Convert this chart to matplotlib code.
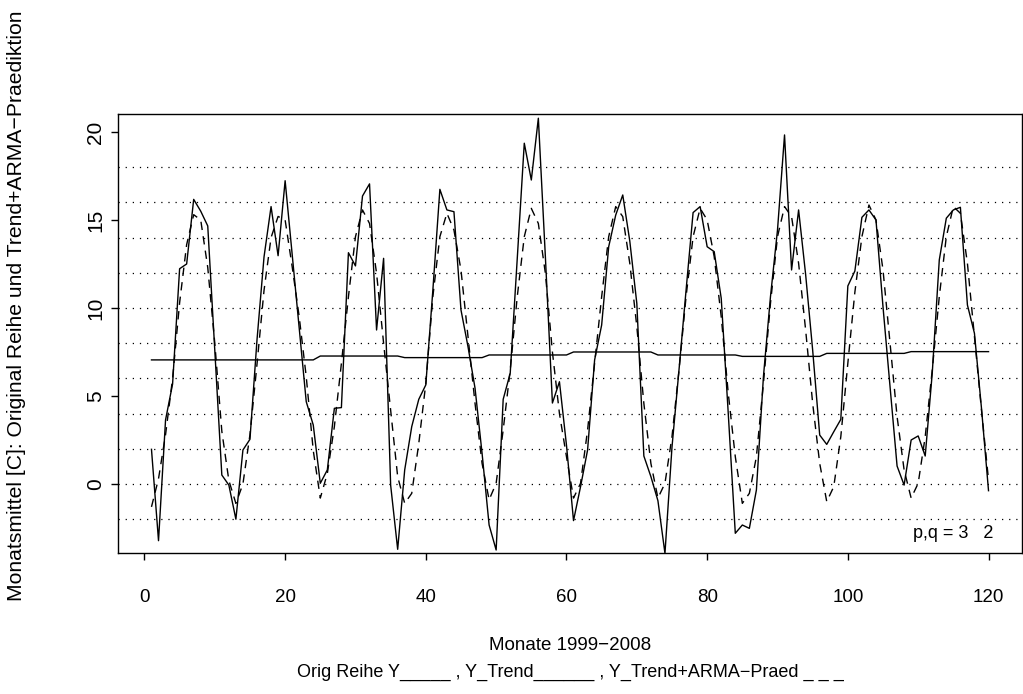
import numpy as np
import matplotlib
matplotlib.use("Agg")
import matplotlib.pyplot as plt

plt.rcParams['font.family'] = ['Liberation Sans', 'DejaVu Sans']

# ---- data ----
months = list(range(1, 121))

y_orig = [
    1.97, -3.22, 3.64, 5.68, 12.23, 12.50, 16.17, 15.50, 14.66, 7.60, 0.51, -0.06,
    -2.00, 1.93, 2.54, 8.18, 12.90, 15.76, 12.97, 17.23, 13.05, 8.86, 4.68, 3.35,
    0.04, 0.80, 4.30, 4.34, 13.14, 12.39, 16.36, 17.05, 8.75, 12.82, -0.06, -3.71,
    0.80, 3.26, 4.81, 5.63, 11.00, 16.74, 15.57, 15.47, 9.89, 7.80, 5.44, 1.74,
    -2.33, -3.75, 4.81, 6.29, 12.80, 19.36, 17.27, 20.78, 12.90, 4.60, 5.81, 2.20,
    -2.08, -0.15, 1.93, 7.05, 9.03, 13.48, 15.28, 16.42, 13.80, 10.26, 1.59, 0.42,
    -0.95, -3.94, 2.10, 6.50, 11.00, 15.42, 15.76, 13.48, 13.20, 10.55, 4.00, -2.80,
    -2.33, -2.52, -0.34, 6.10, 10.64, 14.43, 19.83, 12.16, 15.57, 11.90, 7.60, 2.78,
    2.25, 2.97, 3.67, 11.25, 12.10, 15.15, 15.57, 15.00, 10.06, 5.53, 1.02, -0.06,
    2.50, 2.73, 1.59, 6.30, 12.73, 15.10, 15.57, 15.72, 10.17, 8.56, 4.30, -0.38,
]

y_pred = [
    -1.30, 0.30, 2.80, 6.00, 10.30, 13.60, 15.30, 15.00, 12.30, 8.00, 3.00, 0.20,
    -1.10, 0.00, 2.80, 6.80, 11.00, 14.00, 15.20, 15.00, 12.35, 9.50, 6.10, 1.90,
    -0.80, 0.60, 3.26, 6.85, 10.64, 14.05, 15.57, 14.80, 11.97, 8.00, 4.20, 0.42,
    -1.10, -0.53, 2.30, 5.72, 10.64, 14.05, 15.38, 14.43, 12.16, 8.37, 4.58, 1.17,
    -0.90, 0.04, 3.07, 6.48, 10.64, 14.05, 15.66, 14.80, 11.97, 7.50, 4.00, 1.55,
    -0.80, 0.04, 3.07, 6.86, 10.64, 14.05, 15.76, 15.19, 12.54, 8.94, 4.58, 1.17,
    -0.80, 0.04, 2.69, 6.48, 10.64, 14.05, 15.66, 15.00, 12.92, 9.50, 5.15, 1.55,
    -1.10, -0.53, 1.55, 5.72, 10.26, 14.05, 15.76, 15.19, 12.54, 8.75, 4.58, 1.17,
    -1.00, -0.15, 2.69, 6.86, 10.90, 14.05, 15.85, 15.00, 12.16, 8.00, 3.83, 0.80,
    -0.80, 0.04, 2.69, 6.48, 10.64, 14.05, 15.76, 15.38, 12.54, 8.37, 4.20, 0.23,
]

# yearly trend level (constant within each year of 12 months)
trend_year = [7.05, 7.05, 7.27, 7.18, 7.33, 7.50, 7.33, 7.25, 7.42, 7.52]
trend = np.repeat(trend_year, 12)

x_ticks = [0, 20, 40, 60, 80, 100, 120]
y_ticks = [0, 5, 10, 15, 20]
grid_levels = [-2, 0, 2, 4, 6, 8, 10, 12, 14, 16, 18]

xlabel_1 = "Monate 1999\u22122008"
xlabel_2 = "Orig Reihe Y_____ , Y_Trend______ , Y_Trend+ARMA\u2212Praed _ _ _"
ylabel = "Monatsmittel [C]: Original Reihe und Trend+ARMA\u2212Praediktion"
pq_text = "p,q = 3   2"

# ---- figure ----
W, H = 1023, 694
fig = plt.figure(figsize=(W / 100, H / 100), dpi=100)
fig.patch.set_facecolor("white")

left_px, right_px, top_px, bottom_px = 118, 1022, 114, 553
ax = fig.add_axes([left_px / W, 1 - bottom_px / H,
                   (right_px - left_px) / W, (bottom_px - top_px) / H])

ax.set_xlim(-3.76, 124.76)
ax.set_ylim(-3.92, 21.02)

for g in grid_levels:
    ax.axhline(g, color="black", lw=0.9, linestyle=(0, (1, 4.7)), zorder=1)

ax.plot(months, y_orig, color="black", lw=1.0, zorder=3)
ax.plot(months, trend, color="black", lw=1.0, zorder=3)
ax.plot(months, y_pred, color="black", lw=1.0, linestyle=(0, (6, 4.5)), zorder=3)

ax.text(115, -2.8, pq_text, ha="center", va="center", fontsize=13)

for s in ax.spines.values():
    s.set_linewidth(1.0)
    s.set_color("black")

ax.set_xticks(x_ticks)
ax.set_yticks(y_ticks)
ax.set_xticklabels([str(v) for v in x_ticks])
ax.set_yticklabels([str(v) for v in y_ticks])
ax.tick_params(axis="both", direction="out", length=5, width=1.0, colors="black")
ax.tick_params(axis="x", pad=21, labelsize=13.5)
ax.tick_params(axis="y", pad=4, labelsize=15)
for lab in ax.get_yticklabels():
    lab.set_rotation(90)
    lab.set_va("center")

fig.text((left_px + right_px) / 2 / W, 1 - 645 / H, xlabel_1,
         ha="center", va="center", fontsize=13.5)
fig.text((left_px + right_px) / 2 / W, 1 - 672 / H, xlabel_2,
         ha="center", va="center", fontsize=13)
fig.text(17 / W, 1 - 306 / H, ylabel,
         ha="center", va="center", rotation=90, fontsize=15.2)

fig.savefig("out.png", dpi=100, facecolor="white")
